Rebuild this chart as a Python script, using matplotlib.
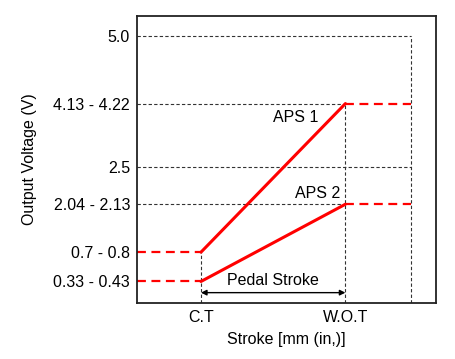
import matplotlib.pyplot as plt

plt.rcParams['font.family'] = ['Liberation Sans', 'DejaVu Sans']

# schematic positions (axis units) for the voltage levels, top to bottom
level_labels = ['5.0', '4.13 - 4.22', '2.5', '2.04 - 2.13', '0.7 - 0.8', '0.33 - 0.43']
level_pos = [5.02, 3.75, 2.55, 1.86, 0.96, 0.41]

# stroke positions
x_labels = ['C.T', 'W.O.T']
x_ct, x_wot, x_end = 2.14, 6.97, 9.17

# sensor outputs: (start level, end level)
aps1 = (0.96, 3.75)
aps2 = (0.41, 1.86)

fs = 11.5
fig = plt.figure(figsize=(4.55, 3.59), dpi=100)
ax = fig.add_axes([137 / 455, 1 - 303.3 / 359, 299 / 455, 287.6 / 359])
ax.set_xlim(0, 10)
ax.set_ylim(0, 5.4)

grid = dict(color='#333333', lw=0.8, ls=(0, (3, 2)))
red = dict(color='#ff0000', lw=2.2)
red_dash = dict(color='#ff0000', lw=1.6, ls=(0, (4, 2.5)))

# guide lines
ax.plot([0, x_end], [level_pos[0]] * 2, **grid)
ax.plot([0, x_end], [level_pos[2]] * 2, **grid)
ax.plot([0, x_wot], [aps1[1]] * 2, **grid)
ax.plot([0, x_wot], [aps2[1]] * 2, **grid)
ax.plot([x_end, x_end], [0, level_pos[0]], **grid)
ax.plot([x_wot, x_wot], [0, aps1[1]], **grid)
ax.plot([x_ct, x_ct], [0, aps1[0]], **grid)

# APS lines
for start, end in (aps1, aps2):
    ax.plot([0, x_ct], [start, start], **red_dash)
    ax.plot([x_ct, x_wot], [start, end], solid_capstyle='round', **red)
    ax.plot([x_wot, x_end], [end, end], **red_dash)

ax.text(5.3, 3.48, 'APS 1', fontsize=fs, ha='center', va='center')
ax.text(6.05, 1.93, 'APS 2', fontsize=fs, ha='center', va='bottom')

# pedal stroke arrow
ax.annotate('', xy=(x_ct, 0.2), xytext=(x_wot, 0.2),
            arrowprops=dict(arrowstyle='<|-|>', color='black', lw=1,
                            mutation_scale=8, shrinkA=0, shrinkB=0))
ax.text((x_ct + x_wot) / 2, 0.28, 'Pedal Stroke', fontsize=fs, ha='center', va='bottom')

ax.set_yticks(level_pos)
ax.set_yticklabels(level_labels, fontsize=fs)
ax.set_xticks([x_ct, x_wot])
ax.set_xticklabels(x_labels, fontsize=fs)
ax.tick_params(length=0, pad=5)
ax.set_ylabel('Output Voltage (V)', fontsize=fs, labelpad=12)
ax.set_xlabel('Stroke [mm (in,)]', fontsize=fs, labelpad=5)
for s in ax.spines.values():
    s.set_linewidth(1.3)
    s.set_color('#222222')

fig.savefig('out.png', dpi=100)
